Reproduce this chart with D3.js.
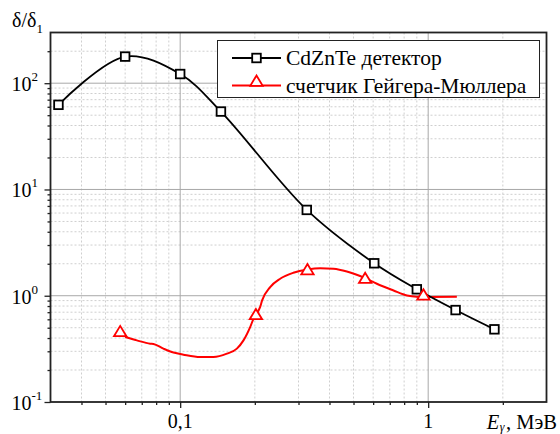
<!DOCTYPE html>
<html>
<head>
<meta charset="utf-8">
<script src="https://cdn.jsdelivr.net/npm/d3@7"></script>
<style>
  html, body { margin: 0; padding: 0; background: #fff; }
  svg { display: block; }
</style>
</head>
<body>
<svg id="chart" width="560" height="434"></svg>
<script>
// CdZnTe detector: measured points joined by a smooth curve
const cdzEnergy = [0.0323, 0.06, 0.1, 0.146, 0.324, 0.606, 0.9, 1.29, 1.85];
const cdzRatio  = [62.6, 178, 122, 54.1, 6.42, 2.02, 1.15, 0.733, 0.483];

// Geiger-Mueller counter: response curve
const gmCurveEnergy = [0.060, 0.0669, 0.0757, 0.078, 0.0856, 0.094, 0.1031, 0.1204, 0.1362,
  0.1543, 0.1693, 0.180, 0.1915, 0.1988, 0.210, 0.214, 0.2306, 0.253, 0.286, 0.326, 0.367,
  0.415, 0.47, 0.557, 0.621, 0.725, 0.821, 0.900, 1.0, 1.305];
const gmCurveRatio = [0.409, 0.380, 0.354, 0.352, 0.318, 0.292, 0.279, 0.265, 0.265,
  0.285, 0.318, 0.380, 0.507, 0.630, 0.781, 0.903, 1.204, 1.444, 1.644, 1.766, 1.816,
  1.793, 1.69, 1.463, 1.296, 1.121, 1.006, 0.979, 0.975, 0.979];

// Geiger-Mueller counter: marked points
const gmEnergy = [0.0573, 0.202, 0.326, 0.557, 0.957];
const gmRatio  = [0.462, 0.667, 1.766, 1.463, 1.02];

// Axis labels
const xTickValues = [0.1, 1];
const xTickLabels = ["0,1", "1"];
const yTickValues = [0.1, 1, 10, 100];
const yTickExponents = ["-1", "0", "1", "2"];
const legendLabels = ["CdZnTe детектор", "счетчик Гейгера-Мюллера"];

const SERIF = '"Liberation Serif"';

const svg = d3.select("#chart");
const plotLeft = 50.5, plotRight = 546.5, plotTop = 32.5, plotBottom = 402;

const x = d3.scaleLog().domain([0.03, 3]).range([plotLeft, plotRight]);
const y = d3.scaleLog().domain([0.1, 300]).range([plotBottom, plotTop]);

// minor values k*10^n inside the domain
function minors(domain) {
  const out = [];
  for (let e = -3; e <= 3; e++) {
    for (let k = 2; k <= 9; k++) {
      const v = k * Math.pow(10, e);
      if (v > domain[0] * 1.0001 && v < domain[1] * 0.9999) out.push(v);
    }
  }
  return out;
}
const xMinor = minors(x.domain());
const yMinor = minors(y.domain());
const xMajor = [0.1, 1];
const yMajor = [1, 10, 100];

// grid
const grid = svg.append("g");
grid.selectAll(".xm").data(xMinor).join("line")
  .attr("x1", d => x(d)).attr("x2", d => x(d)).attr("y1", plotTop).attr("y2", plotBottom)
  .attr("stroke", "#cfcfcf").attr("stroke-width", 1).attr("stroke-dasharray", "2,2");
grid.selectAll(".ym").data(yMinor).join("line")
  .attr("y1", d => y(d)).attr("y2", d => y(d)).attr("x1", plotLeft).attr("x2", plotRight)
  .attr("stroke", "#cfcfcf").attr("stroke-width", 1).attr("stroke-dasharray", "2,2");
grid.selectAll(".xM").data(xMajor).join("line")
  .attr("x1", d => x(d)).attr("x2", d => x(d)).attr("y1", plotTop).attr("y2", plotBottom)
  .attr("stroke", "#a8a8a8").attr("stroke-width", 1);
grid.selectAll(".yM").data(yMajor).join("line")
  .attr("y1", d => y(d)).attr("y2", d => y(d)).attr("x1", plotLeft).attr("x2", plotRight)
  .attr("stroke", "#a8a8a8").attr("stroke-width", 1);

// axes with outward ticks
const xAxisMinor = d3.axisBottom(x).tickValues(xMinor).tickSize(3).tickFormat("");
const xAxisMajor = d3.axisBottom(x).tickValues(xTickValues).tickSize(6).tickFormat("");
const yAxisMinor = d3.axisLeft(y).tickValues(yMinor).tickSize(3).tickFormat("");
const yAxisMajor = d3.axisLeft(y).tickValues(yTickValues).tickSize(6).tickFormat("");
[xAxisMinor, xAxisMajor].forEach(a => {
  const g = svg.append("g").attr("transform", `translate(0,${plotBottom})`).call(a);
  g.select(".domain").remove();
  g.selectAll("line").attr("stroke", "#222").attr("stroke-width", 1.3);
});
[yAxisMinor, yAxisMajor].forEach(a => {
  const g = svg.append("g").attr("transform", `translate(${plotLeft},0)`).call(a);
  g.select(".domain").remove();
  g.selectAll("line").attr("stroke", "#222").attr("stroke-width", 1.3);
});

const labels = svg.append("g").attr("fill", "#000");

// tick labels
labels.append("g").selectAll("text").data(xTickValues).join("text")
  .style("font-family", SERIF)
  .attr("x", d => x(d)).attr("y", plotBottom + 26).attr("text-anchor", "middle")
  .attr("font-size", 20).text((d, i) => xTickLabels[i]);

const yl = labels.append("g").selectAll("text").data(yTickValues).join("text")
  .style("font-family", SERIF)
  .attr("x", 11.5).attr("y", d => y(d) + 8).attr("font-size", 20);
yl.append("tspan").text("10");
yl.append("tspan").attr("font-size", 13).attr("dy", -10).text((d, i) => yTickExponents[i]);

// axis titles
const yt = labels.append("text").style("font-family", SERIF)
  .attr("x", 12).attr("y", 27).attr("font-size", 20);
yt.append("tspan").text("δ/δ");
yt.append("tspan").attr("font-size", 13).attr("dy", 6).text("1");

const xt = labels.append("text").style("font-family", SERIF)
  .attr("x", 557).attr("y", 429).attr("text-anchor", "end").attr("font-size", 20.5);
xt.append("tspan").attr("font-style", "italic").text("E");
xt.append("tspan").attr("font-size", 12).attr("dy", 1.5).attr("dx", 0.5).attr("font-style", "italic").text("γ");
xt.append("tspan").attr("dy", -1.5).attr("dx", 1.5).text(", МэВ");

// curves
const plot = svg.append("g");

plot.append("path")
  .datum(d3.zip(gmCurveEnergy, gmCurveRatio))
  .attr("d", d3.line().x(d => x(d[0])).y(d => y(d[1])).curve(d3.curveMonotoneX))
  .attr("fill", "none").attr("stroke", "#ff0000").attr("stroke-width", 2);

plot.append("path")
  .datum(d3.zip(cdzEnergy, cdzRatio))
  .attr("d", d3.line().x(d => x(d[0])).y(d => y(d[1])).curve(d3.curveCatmullRom.alpha(0.5)))
  .attr("fill", "none").attr("stroke", "#000").attr("stroke-width", 1.8);

// markers
const triPath = "M0,-5.5L6.2,4.8L-6.2,4.8Z";
plot.selectAll(".sq").data(d3.zip(cdzEnergy, cdzRatio)).join("rect")
  .attr("x", d => x(d[0]) - 4.3).attr("y", d => y(d[1]) - 4.3)
  .attr("width", 8.6).attr("height", 8.6)
  .attr("fill", "#fff").attr("stroke", "#000").attr("stroke-width", 1.8);
plot.selectAll(".tri").data(d3.zip(gmEnergy, gmRatio)).join("path")
  .attr("d", triPath)
  .attr("transform", d => `translate(${x(d[0])},${y(d[1])})`)
  .attr("fill", "#fff").attr("stroke", "#ff0000").attr("stroke-width", 1.8);

// frame
svg.append("rect").attr("x", plotLeft).attr("y", plotTop)
  .attr("width", plotRight - plotLeft).attr("height", plotBottom - plotTop)
  .attr("fill", "none").attr("stroke", "#222").attr("stroke-width", 1.8);

// legend
const lg = svg.append("g");
lg.append("rect").attr("x", 217.5).attr("y", 40.5).attr("width", 322).attr("height", 57)
  .attr("fill", "#fff").attr("stroke", "#222").attr("stroke-width", 1);
const rows = [58, 85.5];
lg.append("line").attr("x1", 232).attr("x2", 281).attr("y1", rows[0]).attr("y2", rows[0])
  .attr("stroke", "#000").attr("stroke-width", 1.8);
lg.append("rect").attr("x", 256.5 - 4.3).attr("y", rows[0] - 4.3).attr("width", 8.6).attr("height", 8.6)
  .attr("fill", "#fff").attr("stroke", "#000").attr("stroke-width", 1.8);
lg.append("line").attr("x1", 232).attr("x2", 281).attr("y1", rows[1]).attr("y2", rows[1])
  .attr("stroke", "#ff0000").attr("stroke-width", 2);
lg.append("path").attr("d", triPath)
  .attr("transform", `translate(256.5,${rows[1] - 4.5})`)
  .attr("fill", "#fff").attr("stroke", "#ff0000").attr("stroke-width", 1.8);
lg.selectAll(".lt").data(legendLabels).join("text")
  .style("font-family", SERIF)
  .attr("x", 286).attr("y", (d, i) => rows[i] + 7).attr("font-size", 21.5).text(d => d);
</script>
</body>
</html>
